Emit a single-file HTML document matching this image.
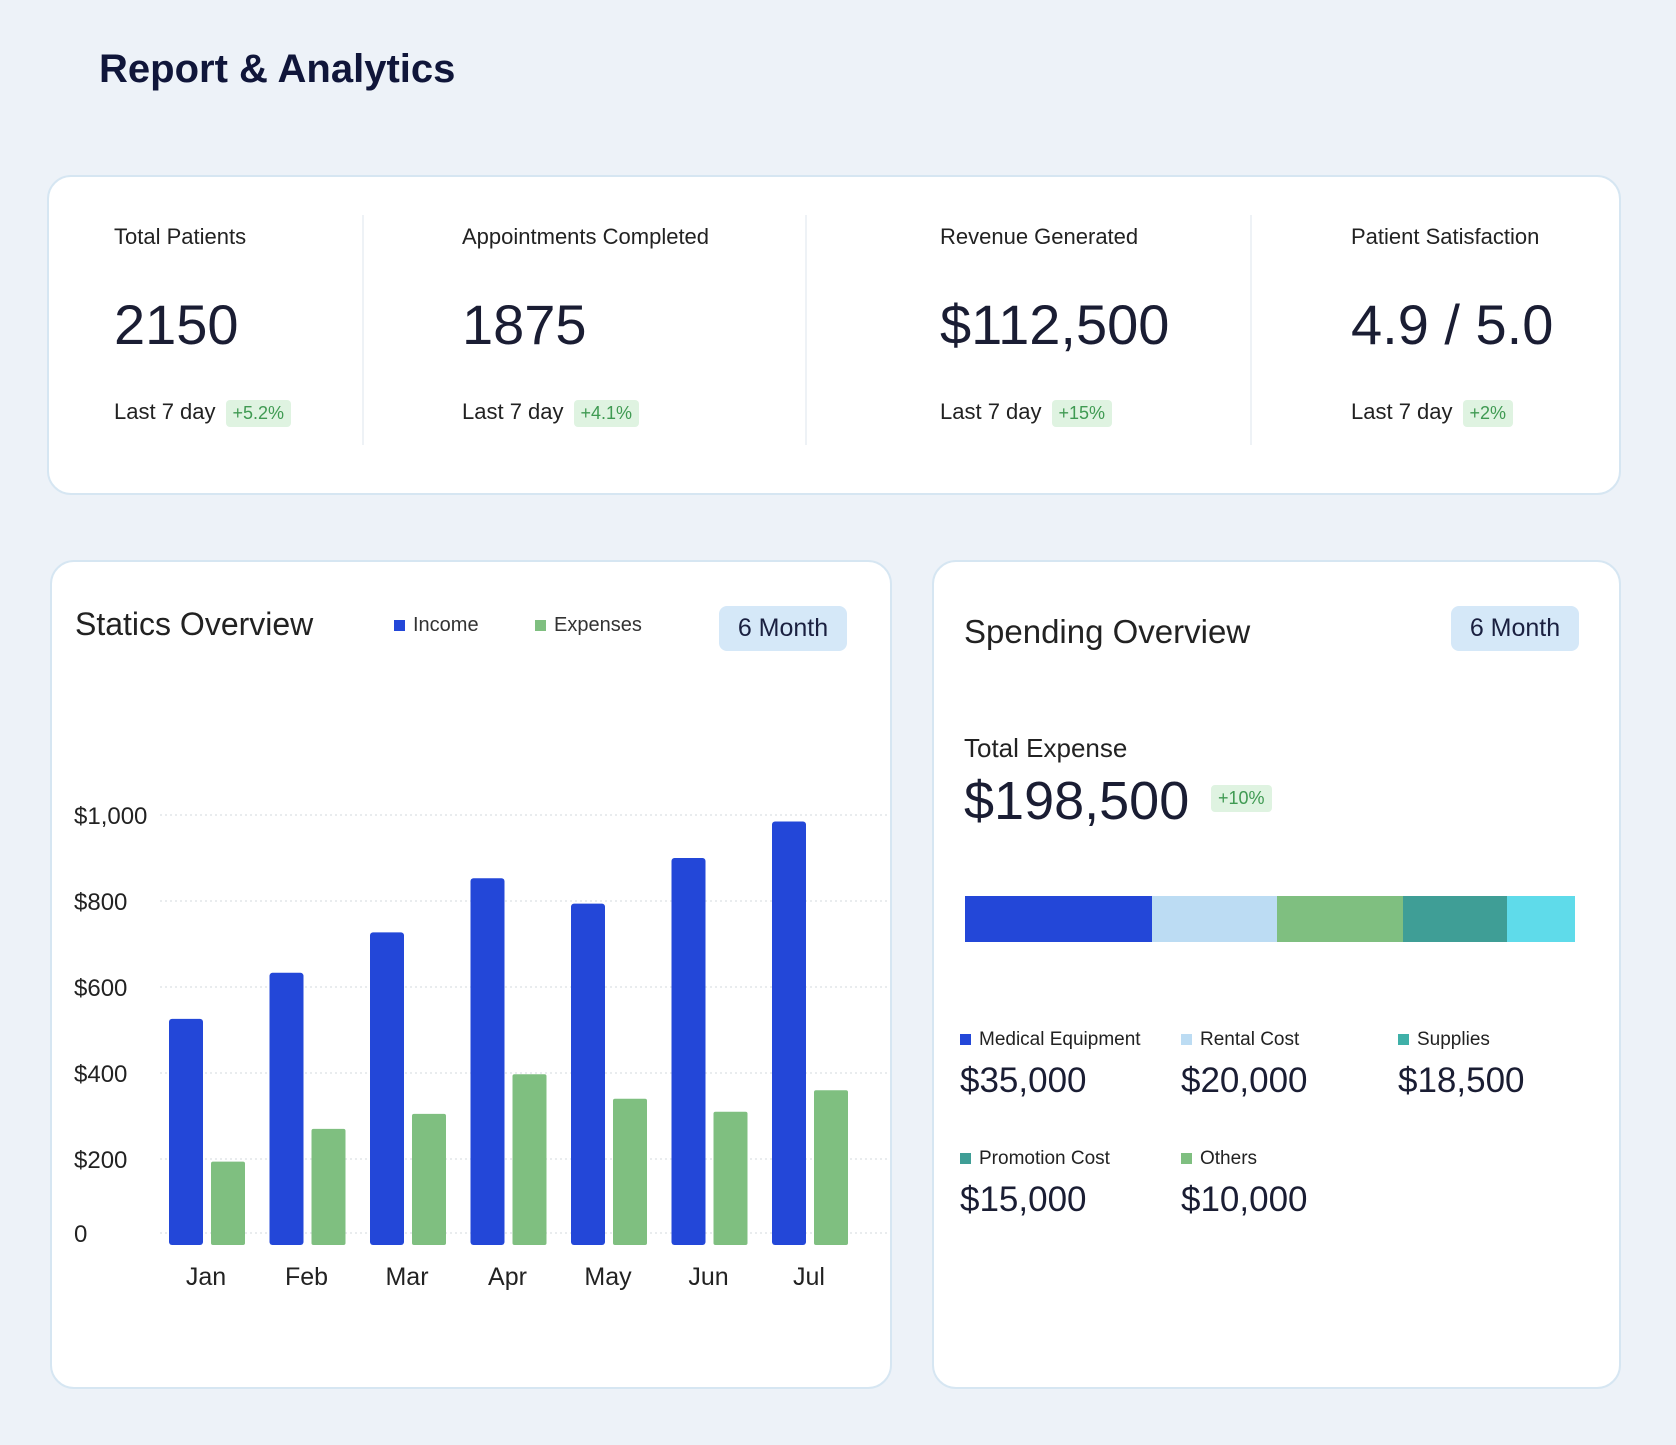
<!DOCTYPE html>
<html><head><meta charset="utf-8"><style>
body{margin:0;width:1676px;height:1445px;background:#edf2f8;font-family:"Liberation Sans",sans-serif;color:#1a1d33;position:relative;overflow:hidden}
.abs{position:absolute}
.card{position:absolute;background:#fff;border:2px solid #d6e6f2;border-radius:24px;box-sizing:border-box}
.lbl{font-size:22px;color:#222}
.val{font-size:56px;color:#1a1d33}
.sub{font-size:22px;color:#222}
.badge{display:inline-block;background:#dff3e1;color:#3f9a52;font-size:18px;padding:3px 7px;border-radius:4px;margin-left:10px;vertical-align:middle}
.div{position:absolute;top:215px;width:2px;height:230px;background:#eef2f6}
.btn{position:absolute;background:#d5e8f8;border-radius:8px;font-size:25px;color:#1a2040;text-align:center;line-height:45px}
.sq{display:inline-block;width:11px;height:11px;margin-right:8px}
.li{position:absolute;font-size:19px;color:#222}
.lv{position:absolute;font-size:35px;color:#1a1d33}
</style></head><body>
<div class="abs" style="left:99px;top:47px;font-size:40px;font-weight:bold;color:#10163a">Report &amp; Analytics</div>

<div class="card" style="left:47px;top:175px;width:1574px;height:320px"></div>
<div class="div" style="left:362px"></div><div class="div" style="left:805px"></div><div class="div" style="left:1250px"></div>

<div class="abs" style="left:114px;top:224px">
<div class="lbl">Total Patients</div><div class="val" style="margin-top:42px">2150</div><div class="sub" style="margin-top:42px">Last 7 day<span class="badge">+5.2%</span></div></div>
<div class="abs" style="left:462px;top:224px">
<div class="lbl">Appointments Completed</div><div class="val" style="margin-top:42px">1875</div><div class="sub" style="margin-top:42px">Last 7 day<span class="badge">+4.1%</span></div></div>
<div class="abs" style="left:940px;top:224px">
<div class="lbl">Revenue Generated</div><div class="val" style="margin-top:42px">$112,500</div><div class="sub" style="margin-top:42px">Last 7 day<span class="badge">+15%</span></div></div>
<div class="abs" style="left:1351px;top:224px">
<div class="lbl">Patient Satisfaction</div><div class="val" style="margin-top:42px">4.9 / 5.0</div><div class="sub" style="margin-top:42px">Last 7 day<span class="badge">+2%</span></div></div>

<div class="card" style="left:50px;top:560px;width:842px;height:829px"></div>
<div class="abs" style="left:75px;top:606px;font-size:32px;color:#222">Statics Overview</div>
<div class="abs" style="left:394px;top:614px;font-size:20px;color:#333"><span class="sq" style="background:#2347d8"></span>Income</div>
<div class="abs" style="left:535px;top:614px;font-size:20px;color:#333"><span class="sq" style="background:#7fbf80"></span>Expenses</div>
<div class="btn" style="left:719px;top:606px;width:128px;height:45px">6 Month</div>
<svg id="chart" class="abs" style="left:0;top:0" width="900" height="1445"></svg>

<div class="card" style="left:932px;top:560px;width:689px;height:829px"></div>
<div class="abs" style="left:964px;top:613px;font-size:33px;color:#222">Spending Overview</div>
<div class="btn" style="left:1451px;top:606px;width:128px;height:45px">6 Month</div>
<div class="abs" style="left:964px;top:733px;font-size:26px;color:#222">Total Expense</div>
<div class="abs" style="left:964px;top:770px;font-size:54px;color:#1a1d33">$198,500</div>
<div class="abs" style="left:1211px;top:785px"><span class="badge" style="margin:0">+10%</span></div>
<div class="abs" style="left:965px;top:896px;width:610px;height:46px;display:flex">
<div style="width:187px;background:#2347d8"></div><div style="width:125px;background:#bcdcf3"></div><div style="width:126px;background:#7fbf80"></div><div style="width:104px;background:#3f9e96"></div><div style="width:68px;background:#5fdbea"></div></div>

<div class="li" style="left:960px;top:1029px"><span class="sq" style="background:#2347d8"></span>Medical Equipment</div>
<div class="lv" style="left:960px;top:1061px">$35,000</div>
<div class="li" style="left:1181px;top:1029px"><span class="sq" style="background:#bcdcf3"></span>Rental Cost</div>
<div class="lv" style="left:1181px;top:1061px">$20,000</div>
<div class="li" style="left:1398px;top:1029px"><span class="sq" style="background:#3fb0a8"></span>Supplies</div>
<div class="lv" style="left:1398px;top:1061px">$18,500</div>
<div class="li" style="left:960px;top:1148px"><span class="sq" style="background:#3f9e96"></span>Promotion Cost</div>
<div class="lv" style="left:960px;top:1180px">$15,000</div>
<div class="li" style="left:1181px;top:1148px"><span class="sq" style="background:#7fbf80"></span>Others</div>
<div class="lv" style="left:1181px;top:1180px">$10,000</div>

<script>
const months=["Jan","Feb","Mar","Apr","May","Jun","Jul"];
const income=[526,633,727,853,794,900,985];
const expenses=[194,270,305,397,340,310,360];
const ticks=[0,200,400,600,800,1000];
const tickLabels=["0","$200","$400","$600","$800","$1,000"];
const svg=document.getElementById('chart');
const NS="http://www.w3.org/2000/svg";
const y=v=>1245-v*0.43;
const x=i=>206+i*100.5;
function mk(t,a){const e=document.createElementNS(NS,t);for(const k in a)e.setAttribute(k,a[k]);svg.appendChild(e);return e;}
ticks.forEach((t,i)=>{
 const l=mk('line',{x1:160,x2:887,y1:y(t)-12*(t===0?1:0),y2:y(t)-12*(t===0?1:0),stroke:'#d3d8de','stroke-dasharray':'2,3'});
 
 
 const tx=mk('text',{x:74,y:y(t)-12*(t===0?1:0)+9,'font-size':24,fill:'#222','font-family':'Liberation Sans'});
 tx.textContent=tickLabels[i];
 
 
});
months.forEach((m,i)=>{
 const b=mk('rect',{x:x(i)-37,y:y(income[i]),width:34,height:income[i]*0.43,fill:'#2347d8',rx:3});
 
 
 const e=mk('rect',{x:x(i)+5,y:y(expenses[i]),width:34,height:expenses[i]*0.43,fill:'#7fbf80',rx:2});
 
 
 const t=mk('text',{x:x(i),y:1285,'font-size':25,fill:'#222','text-anchor':'middle','font-family':'Liberation Sans'});
 t.textContent=m;
 
 
});
</script>
</body></html>
